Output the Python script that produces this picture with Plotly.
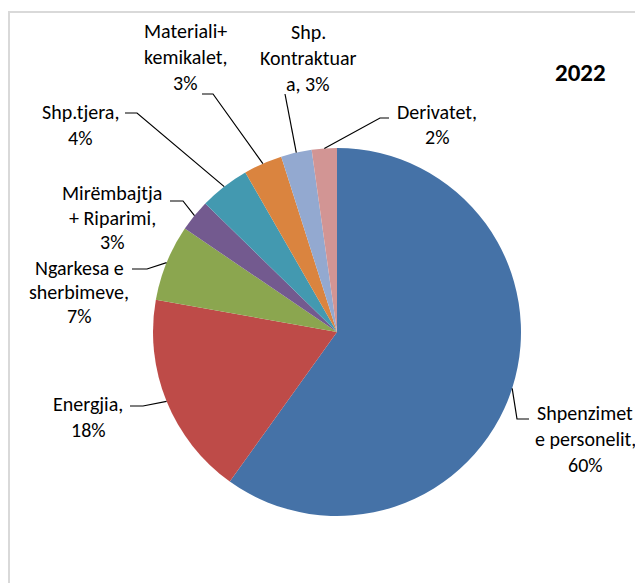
import math
import plotly.graph_objects as go

# ---------------- data ----------------
categories = ["Shpenzimet e personelit", "Energjia", "Ngarkesa e sherbimeve",
              "Mirëmbajtja + Riparimi", "Shp.tjera", "Materiali+ kemikalet",
              "Shp. Kontraktuara", "Derivatet"]
values = [59.9, 17.9, 6.7, 2.8, 4.4, 3.4, 2.7, 2.2]
colors = ["#4572A7", "#BE4B48", "#8BA64F", "#735A8F", "#4399B0", "#DA843F", "#93A9D0", "#D29594"]
label_lines = [
    ["Shpenzimet", "e personelit,", "{p}"],
    ["Energjia,", "{p}"],
    ["Ngarkesa e", "sherbimeve,", "{p}"],
    ["Mirëmbajtja", "+ Riparimi,", "{p}"],
    ["Shp.tjera,", "{p}"],
    ["Materiali+", "kemikalet,", "{p}"],
    ["Shp.", "Kontraktuar", "a, {p}"],
    ["Derivatet,", "{p}"],
]
title_text = "2022"

# ---------------- layout constants (screen pixels) ----------------
W, H = 643, 583
OFF = 8  # page body margin
CX, CY, R = 337, 332, 184
FONT = "Carlito, Lato, sans-serif"
FS = 20
# label centre x, first-line centre y, line spacing
label_pos = [(585, 413, 26), (88, 404, 26), (79, 268, 24), (112, 193, 24.5),
             (80, 112, 26), (185, 31, 26), (308, 32, 26), (437, 112, 25)]
# leader line: elbow point, end point
leader = [((517, 419), (529, 419)),
          ((143, 406), (130, 406)),
          ((147, 269), (132, 269)),
          ((183, 201), (170, 201)),
          ((137, 113), (125, 113)),
          ((213, 94), (202, 94)),
          ((285, 94), (285, 94)),
          ((380, 118), (389, 118))]


def px(x):
    return (x - OFF) / W


def py(y):
    return 1 - (y - OFF) / H


fig = go.Figure(go.Pie(
    labels=categories, values=values, sort=False, direction="clockwise",
    rotation=0, textinfo="none", hoverinfo="label+percent",
    marker=dict(colors=colors, line=dict(color="white", width=0)),
    domain=dict(x=[px(CX - R), px(CX + R)], y=[py(CY + R), py(CY - R)]),
    showlegend=False,
))

total = sum(values)
annotations = []
shapes = []
cum = 0.0
for i, v in enumerate(values):
    mid = (cum + v / 2) / total * 2 * math.pi
    cum += v
    sx = CX + R * math.sin(mid)
    sy = CY - R * math.cos(mid)
    (ex, ey), (fx, fy) = leader[i]
    path = f"M {px(sx)} {py(sy)} L {px(ex)} {py(ey)} L {px(fx)} {py(fy)}"
    shapes.append(dict(type="path", xref="paper", yref="paper", path=path,
                       line=dict(color="black", width=1.2)))
    pct = f"{round(v / total * 100)}%"
    lx, ly, lh = label_pos[i]
    for k, line in enumerate(label_lines[i]):
        annotations.append(dict(
            x=px(lx), y=py(ly + k * lh), xref="paper", yref="paper",
            text=line.replace("{p}", pct), showarrow=False,
            xanchor="center", yanchor="middle",
            font=dict(family=FONT, size=FS, color="black")))

annotations.append(dict(x=px(580), y=py(72), xref="paper", yref="paper",
                        text=f"<b>{title_text}</b>", showarrow=False,
                        xanchor="center", yanchor="middle",
                        font=dict(family=FONT, size=25, color="black")))

# chart-area border (extends beyond the picture on right and bottom)
shapes.append(dict(type="rect", xref="paper", yref="paper",
                   x0=px(9), y0=-0.2, x1=1.2, y1=py(12),
                   line=dict(color="#D9D9D9", width=2), fillcolor="rgba(0,0,0,0)"))

fig.update_layout(
    width=W, height=H, margin=dict(l=0, r=0, t=0, b=0),
    paper_bgcolor="white", plot_bgcolor="white",
    annotations=annotations, shapes=shapes,
)

fig.write_html("out.html")
